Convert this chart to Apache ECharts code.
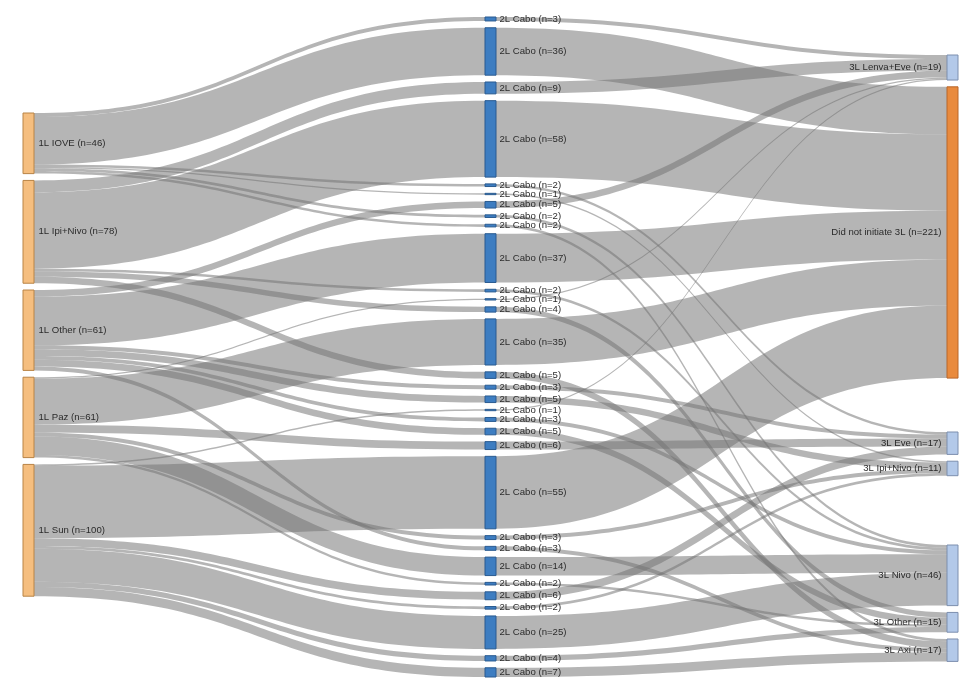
<!DOCTYPE html>
<html><head><meta charset="utf-8">
<script src="https://cdn.jsdelivr.net/npm/echarts@6/dist/echarts.min.js"></script>
<style>html,body{margin:0;padding:0;background:#fff}#c{width:976px;height:688px}</style>
</head><body><div id="c"></div>
<script>
// ---- data ----
const firstLine = ['1L IOVE', '1L Ipi+Nivo', '1L Other', '1L Paz', '1L Sun'];
const secondLine = '2L Cabo';
const thirdLine = ['3L Lenva+Eve', 'Did not initiate 3L', '3L Eve', '3L Ipi+Nivo', '3L Nivo', '3L Other', '3L Axi'];
// one entry per 2L Cabo node (top to bottom): 1L index, 3L index, patients
const pathFrom = [0,0,1,1,0,0,2,0,0,2,1,3,1,3,1,2,2,4,2,2,3,4,3,2,3,3,4,4,4,4,4];
const pathTo   = [0,1,0,1,2,3,0,4,6,1,4,0,5,1,6,2,3,0,4,5,2,1,3,6,4,5,2,3,4,5,6];
const pathPatients = [3,36,9,58,2,1,5,2,2,37,2,1,4,35,5,3,5,1,3,5,6,55,3,3,14,2,6,2,25,4,7];

// ---- layout (pixels inside the series box) ----
const box = { left: 23, right: 18, top: 17, bottom: 11 };
const H = 688 - box.top - box.bottom;
const GAP = 6.8;
const leftColumnTop = 96;                       // offset of the first 1L node
const rightClusterTop = { 0: 38, 2: 415, 4: 528 }; // offsets where right-column groups start

const sum = (arr) => arr.reduce((a, b) => a + b, 0);
const total = sum(pathPatients);
const ky = (H - (pathPatients.length - 1) * GAP) / total;

const nodes = [];
const links = [];
let y = leftColumnTop;
firstLine.forEach((nm, i) => {
  const n = sum(pathPatients.filter((v, k) => pathFrom[k] === i));
  nodes.push({ name: nm, localY: y / H,
    label: { formatter: nm + ' (n=' + n + ')', position: 'right', distance: 4 },
    itemStyle: { color: '#F5BE7F', borderColor: '#B98447' } });
  y += n * ky + GAP;
});
pathPatients.forEach((n, k) => {
  nodes.push({ name: 'p' + k,
    label: { formatter: secondLine + ' (n=' + n + ')', position: 'right', distance: 3 },
    itemStyle: { color: '#3D7DC1', borderColor: '#2A5B90' } });
});
y = 0;
thirdLine.forEach((nm, j) => {
  const n = sum(pathPatients.filter((v, k) => pathTo[k] === j));
  if (rightClusterTop[j] != null) y = rightClusterTop[j];
  const dn = nm.indexOf('Did not') === 0;
  nodes.push({ name: nm, localY: y / H,
    label: { formatter: nm + ' (n=' + n + ')', position: 'left', distance: 5 },
    itemStyle: dn ? { color: '#E98A3D', borderColor: '#B8662A' } : { color: '#B3C9E9', borderColor: '#7D8FAE' } });
  y += n * ky + GAP;
});
pathPatients.forEach((n, k) => {
  links.push({ source: firstLine[pathFrom[k]], target: 'p' + k, value: n });
  links.push({ source: 'p' + k, target: thirdLine[pathTo[k]], value: n });
});

const chart = echarts.init(document.getElementById('c'), null, { renderer: 'canvas' });
chart.setOption({
  animation: false,
  series: [{
    type: 'sankey',
    left: box.left, right: box.right, top: box.top, bottom: box.bottom,
    nodeWidth: 11,
    nodeGap: GAP,
    layoutIterations: 0,
    nodeAlign: 'justify',
    draggable: false,
    emphasis: { disabled: true },
    label: { fontFamily: 'Liberation Sans', fontSize: 9.6, color: '#2b2b2b' },
    itemStyle: { borderWidth: 1 },
    lineStyle: { color: '#747474', opacity: 0.53, curveness: 0.5 },
    data: nodes,
    links: links
  }]
});
</script>
</body></html>
